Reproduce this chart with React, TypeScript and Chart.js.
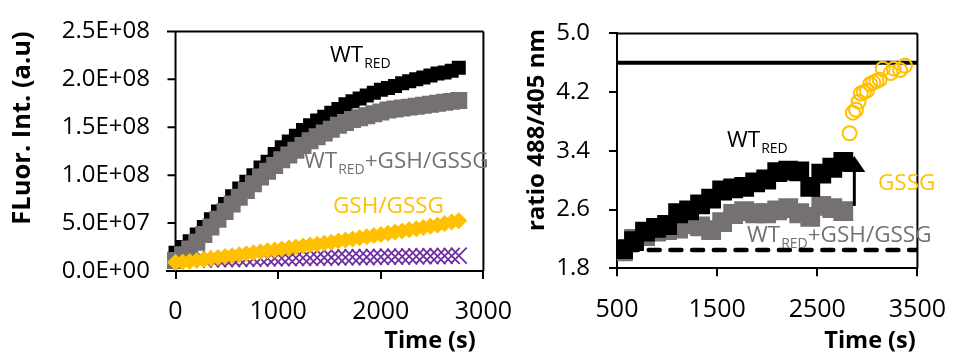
import React, { useEffect, useRef } from "react";
import { Chart, registerables } from "chart.js";

Chart.register(...registerables);

// ---------------- Left panel: fluorescence intensity vs time ----------------
const leftTimes = [
  0, 69, 138, 207, 276, 345, 414, 483, 552, 621, 690, 759, 828, 897, 966, 1035, 1104, 1173, 1242, 1311,
  1380, 1449, 1518, 1587, 1656, 1725, 1794, 1863, 1932, 2001, 2070, 2139, 2208, 2277, 2346, 2415, 2484,
  2553, 2622, 2691, 2760,
];
// values in millions of a.u.
const wtRedFluor = [
  19, 25, 31, 38, 46, 54, 62, 70, 78, 86, 93, 100, 108, 114, 122, 129, 135, 141, 147, 152, 157, 161, 165,
  169, 174, 177, 180, 183, 186, 189, 191, 193, 196, 198, 200, 202, 204, 206, 207, 209, 212,
];
const wtRedGshFluor = [
  11, 17, 23, 30, 38, 46, 54, 62, 70, 77, 84, 91, 98, 104, 110, 116, 121, 126, 131, 136, 140, 144, 148,
  152, 155, 158, 160, 162, 164, 166, 168, 169, 170, 171, 172, 173, 174, 175, 176, 177, 178,
];
const gshGssgFluor = [
  9, 9.5, 10, 11, 12, 13, 14, 15, 16, 17, 18, 19, 20, 21, 22, 23, 24, 25, 26, 27, 28, 29, 30, 31.2, 32.3,
  33.5, 34.6, 35.8, 37, 38.2, 39.4, 40.6, 41.8, 43, 44.2, 45.5, 46.8, 48, 49.5, 51, 52.5,
];
const controlFluor = [
  11.5, 11.6, 11.8, 11.9, 12.0, 12.2, 12.3, 12.4, 12.5, 12.7, 12.8, 12.9, 13.0, 13.1, 13.3, 13.4, 13.5,
  13.6, 13.7, 13.8, 13.9, 14.0, 14.1, 14.2, 14.3, 14.4, 14.5, 14.6, 14.7, 14.8, 14.9, 15.0, 15.1, 15.2,
  15.3, 15.4, 15.5, 15.6, 15.7, 15.8, 16.0,
];
const MILLION = 1e6;
const leftXTicks = [0, 1000, 2000, 3000];
const leftXTickLabels = ["0", "1000", "2000", "3000"];
const leftYTicks = [0, 5e7, 1e8, 1.5e8, 2e8, 2.5e8];
const leftYTickLabels = ["0.0E+00", "5.0E+07", "1.0E+08", "1.5E+08", "2.0E+08", "2.5E+08"];

// ---------------- Right panel: ratio 488/405 vs time ----------------
const rightTimes = [
  560, 670, 780, 890, 1000, 1110, 1220, 1330, 1440, 1550, 1660, 1770, 1880, 1990, 2100, 2210, 2320, 2430,
  2540, 2650, 2760,
];
const wtRedRatio = [
  2.06, 2.17, 2.3, 2.35, 2.39, 2.55, 2.59, 2.67, 2.75, 2.86, 2.89, 2.91, 2.97, 3.01, 3.11, 3.13, 3.12,
  2.91, 3.09, 3.17, 3.25,
];
const wtRedGshRatio = [
  2.03, 2.2, 2.24, 2.3, 2.32, 2.34, 2.4, 2.37, 2.32, 2.43, 2.54, 2.58, 2.55, 2.55, 2.59, 2.62, 2.55,
  2.5, 2.65, 2.62, 2.58,
];
const gssgTimes = [2823, 2856, 2887, 2912, 2934, 2965, 2997, 3028, 3059, 3091, 3123, 3154, 3233, 3264, 3327, 3375];
const gssgRatio = [3.64, 3.92, 3.96, 4.07, 4.18, 4.2, 4.22, 4.31, 4.33, 4.35, 4.37, 4.52, 4.46, 4.52, 4.5, 4.56];
const oxidizedRatio = 4.6;
const reducedRatio = 2.05;
const refLineTimes = [500, 3500];
const gssgArrowTime = 2870;
const gssgArrowRatios = [2.65, 3.33];
const rightXTicks = [500, 1500, 2500, 3500];
const rightXTickLabels = ["500", "1500", "2500", "3500"];
const rightYTicks = [1.8, 2.6, 3.4, 4.2, 5.0];
const rightYTickLabels = ["1.8", "2.6", "3.4", "4.2", "5.0"];

// ---------------- styles ----------------
const BLACK = "#000000";
const GRAY = "#767171";
const YELLOW = "#FFC000";
const PURPLE = "#7030A0";
const FONT = "'Open Sans', 'Noto Sans', sans-serif";

function drawLabel(ctx: CanvasRenderingContext2D, x: number, y: number, main: string, sub: string, rest: string, color: string) {
  ctx.save();
  ctx.fillStyle = color;
  ctx.textBaseline = "alphabetic";
  ctx.textAlign = "left";
  ctx.font = `22.5px ${FONT}`;
  ctx.fillText(main, x, y);
  let cx = x + ctx.measureText(main).width;
  if (sub) {
    ctx.font = `14px ${FONT}`;
    ctx.fillText(sub, cx + 1, y + 6);
    cx += ctx.measureText(sub).width + 1;
  }
  if (rest) {
    ctx.font = `22.5px ${FONT}`;
    ctx.fillText(rest, cx, y);
  }
  ctx.restore();
}

function drawTitle(ctx: CanvasRenderingContext2D, text: string, cx: number, cy: number, rotate: boolean, size: number) {
  ctx.save();
  ctx.translate(cx, cy);
  if (rotate) ctx.rotate(-Math.PI / 2);
  ctx.textAlign = "center";
  ctx.textBaseline = "middle";
  ctx.font = `bold ${size}px ${FONT}`;
  ctx.fillStyle = BLACK;
  ctx.fillText(text, 0, 0);
  ctx.restore();
}

const leftDecor = {
  id: "leftDecor",
  beforeDatasetsDraw(chart: any) {
    const { ctx, chartArea: a, scales } = chart;
    const x0 = scales.x.getPixelForValue(0);
    ctx.save();
    ctx.strokeStyle = BLACK;
    ctx.lineWidth = 2;
    ctx.beginPath();
    ctx.moveTo(a.left, a.top);
    ctx.lineTo(a.right, a.top);
    ctx.moveTo(a.right, a.top);
    ctx.lineTo(a.right, a.bottom);
    ctx.moveTo(x0, a.top);
    ctx.lineTo(x0, a.bottom);
    leftYTicks.forEach((v) => {
      const py = scales.y.getPixelForValue(v);
      ctx.moveTo(x0 - 8, py);
      ctx.lineTo(x0, py);
    });
    ctx.stroke();
    ctx.restore();
  },
  afterDatasetsDraw(chart: any) {
    const ctx = chart.ctx;
    drawLabel(ctx, 330, 62, "WT", "RED", "", BLACK);
    drawLabel(ctx, 304, 168, "WT", "RED", "+GSH/GSSG", GRAY);
    drawLabel(ctx, 333, 213, "GSH/GSSG", "", "", YELLOW);
    drawTitle(ctx, "FLuor. Int. (a.u)", 23, 128, true, 25.5);
    drawTitle(ctx, "Time (s)", 430, 341, false, 23.5);
  },
};

const rightDecor = {
  id: "rightDecor",
  beforeDatasetsDraw(chart: any) {
    const { ctx, chartArea: a } = chart;
    ctx.save();
    ctx.strokeStyle = BLACK;
    ctx.lineWidth = 2;
    ctx.beginPath();
    ctx.moveTo(a.left, a.top);
    ctx.lineTo(a.right, a.top);
    ctx.moveTo(a.right, a.top);
    ctx.lineTo(a.right, a.bottom);
    ctx.stroke();
    ctx.restore();
  },
  afterDatasetsDraw(chart: any) {
    const { ctx, scales } = chart;
    const ax = scales.x.getPixelForValue(gssgArrowTime);
    const yb = scales.y.getPixelForValue(gssgArrowRatios[0]);
    const yt = scales.y.getPixelForValue(gssgArrowRatios[1]);
    ctx.save();
    ctx.strokeStyle = BLACK;
    ctx.fillStyle = BLACK;
    ctx.lineWidth = 3;
    ctx.beginPath();
    ctx.moveTo(ax, yb);
    ctx.lineTo(ax, yt + 14);
    ctx.stroke();
    ctx.beginPath();
    ctx.moveTo(ax, yt);
    ctx.lineTo(ax - 11, yt + 16);
    ctx.lineTo(ax + 11, yt + 16);
    ctx.closePath();
    ctx.fill();
    ctx.restore();
    drawLabel(ctx, 247, 147, "WT", "RED", "", BLACK);
    drawLabel(ctx, 398, 190, "GSSG", "", "", YELLOW);
    drawLabel(ctx, 267, 242, "WT", "RED", "+GSH/GSSG", GRAY);
    drawTitle(ctx, "ratio 488/405 nm", 57, 130, true, 24);
    drawTitle(ctx, "Time (s)", 390, 341, false, 23.5);
  },
};

const pts = (xs: number[], ys: number[], k = 1) => xs.map((x, i) => ({ x, y: ys[i] * k }));

function axisX(min: number, max: number, tickVals: number[], tickLabels: string[], height: number, pad: number) {
  return {
    type: "linear" as const,
    min,
    max,
    afterBuildTicks: (s: any) => {
      s.ticks = tickVals.map((v) => ({ value: v }));
    },
    afterFit: (s: any) => {
      s.height = height;
    },
    grid: { display: true, drawOnChartArea: false, drawTicks: true, tickLength: 8, color: BLACK, lineWidth: 2 },
    border: { display: true, color: BLACK, width: 2 },
    ticks: {
      color: BLACK,
      font: { family: FONT, size: 25 },
      padding: pad,
      maxRotation: 0,
      autoSkip: false,
      callback: (_v: any, i: number) => tickLabels[i],
    },
  };
}

export default function App() {
  const leftRef = useRef<HTMLCanvasElement>(null);
  const rightRef = useRef<HTMLCanvasElement>(null);

  useEffect(() => {
    const left = new Chart(leftRef.current as HTMLCanvasElement, {
      type: "scatter",
      data: {
        datasets: [
          {
            label: "control",
            data: pts(leftTimes, controlFluor, MILLION),
            pointStyle: "crossRot",
            pointRadius: 11.3,
            pointBorderColor: PURPLE,
            pointBackgroundColor: PURPLE,
            pointBorderWidth: 1.8,
            order: 4,
          },
          {
            label: "WT_RED",
            data: pts(leftTimes, wtRedFluor, MILLION),
            pointStyle: "rect",
            pointRadius: 9.9,
            pointBackgroundColor: BLACK,
            pointBorderColor: BLACK,
            pointBorderWidth: 0,
            order: 3,
          },
          {
            label: "WT_RED+GSH/GSSG",
            data: pts(leftTimes, wtRedGshFluor, MILLION),
            pointStyle: "rect",
            pointRadius: 12,
            pointBackgroundColor: GRAY,
            pointBorderColor: GRAY,
            pointBorderWidth: 0,
            order: 2,
          },
          {
            label: "GSH/GSSG",
            data: pts(leftTimes, gshGssgFluor, MILLION),
            pointStyle: "rectRot",
            pointRadius: 8.5,
            pointBackgroundColor: YELLOW,
            pointBorderColor: YELLOW,
            pointBorderWidth: 0,
            order: 1,
          },
        ],
      },
      options: {
        responsive: false,
        animation: false,
        devicePixelRatio: 1,
        events: [],
        layout: { padding: { left: 0, right: 530 - 488.6, top: 20, bottom: 0 } },
        plugins: { legend: { display: false }, tooltip: { enabled: false } },
        scales: {
          x: axisX(-83, 3000, leftXTicks, leftXTickLabels, 356 - 271, 18),
          y: {
            type: "linear",
            min: 0,
            max: 2.5e8,
            afterBuildTicks: (s: any) => {
              s.ticks = leftYTicks.map((v) => ({ value: v }));
            },
            afterFit: (s: any) => {
              s.width = 167;
            },
            grid: { display: false, drawTicks: false },
            border: { display: false },
            ticks: {
              color: BLACK,
              font: { family: FONT, size: 24 },
              padding: 17,
              callback: (_v: any, i: number) => leftYTickLabels[i],
            },
          },
        },
      },
      plugins: [leftDecor],
    } as any);

    const right = new Chart(rightRef.current as HTMLCanvasElement, {
      type: "scatter",
      data: {
        datasets: [
          {
            type: "line",
            label: "reduced",
            data: pts(refLineTimes, [reducedRatio, reducedRatio]),
            borderColor: BLACK,
            borderWidth: 4.5,
            borderDash: [11, 10.7],
            borderDashOffset: 11.7,
            borderCapStyle: "round",
            pointRadius: 0,
            showLine: true,
            order: 5,
          },
          {
            type: "line",
            label: "oxidized",
            data: pts(refLineTimes, [oxidizedRatio, oxidizedRatio]),
            borderColor: BLACK,
            borderWidth: 4,
            pointRadius: 0,
            showLine: true,
            order: 4,
          },
          {
            label: "WT_RED+GSH/GSSG",
            data: pts(rightTimes, wtRedGshRatio),
            pointStyle: "rect",
            pointRadius: 14,
            pointBackgroundColor: GRAY,
            pointBorderColor: GRAY,
            pointBorderWidth: 0,
            order: 3,
          },
          {
            label: "WT_RED",
            data: pts(rightTimes, wtRedRatio),
            pointStyle: "rect",
            pointRadius: 14,
            pointBackgroundColor: BLACK,
            pointBorderColor: BLACK,
            pointBorderWidth: 0,
            order: 2,
          },
          {
            label: "GSSG",
            data: pts(gssgTimes, gssgRatio),
            pointStyle: "circle",
            pointRadius: 7,
            pointBackgroundColor: "rgba(0,0,0,0)",
            pointBorderColor: YELLOW,
            pointBorderWidth: 2,
            order: 1,
          },
        ],
      },
      options: {
        responsive: false,
        animation: false,
        devicePixelRatio: 1,
        events: [],
        layout: { padding: { left: 0, right: 485 - 455, top: 19.3, bottom: 0 } },
        plugins: { legend: { display: false }, tooltip: { enabled: false } },
        scales: {
          x: axisX(500, 3500, rightXTicks, rightXTickLabels, 356 - 268.3, 19),
          y: {
            type: "linear",
            min: 1.8,
            max: 5.0,
            afterBuildTicks: (s: any) => {
              s.ticks = rightYTicks.map((v) => ({ value: v }));
            },
            afterFit: (s: any) => {
              s.width = 137;
            },
            grid: { display: true, drawOnChartArea: false, drawTicks: true, tickLength: 8, color: BLACK, lineWidth: 2 },
            border: { display: true, color: BLACK, width: 2 },
            ticks: {
              color: BLACK,
              font: { family: FONT, size: 24 },
              padding: 19,
              callback: (_v: any, i: number) => rightYTickLabels[i],
            },
          },
        },
      },
      plugins: [rightDecor],
    } as any);

    return () => {
      left.destroy();
      right.destroy();
    };
  }, []);

  return (
    <div style={{ position: "fixed", left: 0, top: 0, width: 965, height: 356, background: "#ffffff", overflow: "hidden" }}>
      <canvas
        ref={leftRef}
        width={530}
        height={356}
        style={{ position: "absolute", left: 0, top: 0, width: 530, height: 356 }}
      />
      <canvas
        ref={rightRef}
        width={485}
        height={356}
        style={{ position: "absolute", left: 480, top: 0, width: 485, height: 356 }}
      />
    </div>
  );
}
